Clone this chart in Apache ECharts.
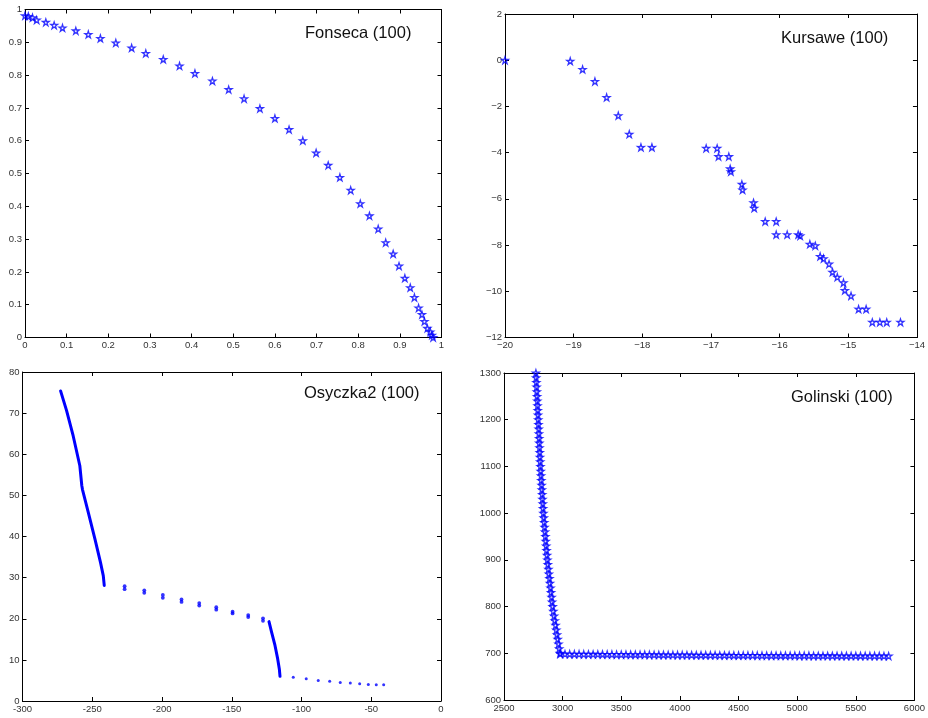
<!DOCTYPE html>
<html lang="en">
<head>
    <meta http-equiv="content-type" content="text/html; charset=utf-8" />
    <script type="text/javascript" src="https://cdn.jsdelivr.net/npm/echarts@6/dist/echarts.min.js"></script>
    <title>Pareto fronts</title>
    <style>
        html, body { margin: 0; padding: 0; background: #fff; }
        #main { width: 928px; height: 718px; }
    </style>
</head>
<body>
<div id="main"></div>
<script type="text/javascript">
    // Fonseca (100)
    var fonseca = [
        [0, 0.981], [0.008, 0.979], [0.018, 0.975], [0.028, 0.968], [0.05, 0.961], [0.07, 0.952],
        [0.09, 0.944], [0.122, 0.935], [0.152, 0.924], [0.181, 0.912], [0.218, 0.898], [0.256, 0.883],
        [0.29, 0.866], [0.332, 0.848], [0.371, 0.828], [0.408, 0.805], [0.45, 0.782], [0.489, 0.756],
        [0.526, 0.728], [0.564, 0.698], [0.6, 0.668], [0.634, 0.634], [0.667, 0.6], [0.699, 0.563],
        [0.728, 0.525], [0.756, 0.488], [0.782, 0.449], [0.805, 0.408], [0.827, 0.371], [0.848, 0.331],
        [0.866, 0.289], [0.884, 0.255], [0.898, 0.218], [0.912, 0.181], [0.925, 0.152], [0.935, 0.122],
        [0.945, 0.09], [0.953, 0.07], [0.959, 0.049], [0.966, 0.028], [0.973, 0.017], [0.977, 0.007],
        [0.98, 0]
    ];
    // Kursawe (100)
    var kursawe = [
        [-20, 0], [-19.05, -0.04], [-18.87, -0.40], [-18.69, -0.92], [-18.52, -1.61], [-18.35, -2.40],
        [-18.19, -3.2], [-18.02, -3.77], [-17.86, -3.77], [-17.07, -3.81], [-16.91, -3.81], [-16.89, -4.17],
        [-16.74, -4.17], [-16.72, -4.70], [-16.71, -4.82], [-16.55, -5.37], [-16.54, -5.61], [-16.38, -6.17],
        [-16.37, -6.40], [-16.21, -6.98], [-16.05, -6.98], [-16.05, -7.55], [-15.89, -7.55], [-15.73, -7.55],
        [-15.70, -7.60], [-15.56, -7.96], [-15.48, -8.03], [-15.41, -8.49], [-15.36, -8.59], [-15.28, -8.82],
        [-15.23, -9.17], [-15.16, -9.39], [-15.07, -9.63], [-15.05, -9.96], [-14.96, -10.20], [-14.85, -10.77],
        [-14.74, -10.77], [-14.65, -11.34], [-14.54, -11.34], [-14.44, -11.34], [-14.24, -11.34]
    ];
    // Osyczka2 (100): two dense stretches and separate dots
    var osyczkaSeg1 = [
        [-272.7, 75.4], [-268.4, 70.6], [-263.7, 64.5], [-258.9, 57.2], [-257.5, 52.4], [-257, 51.4],
        [-252.9, 45.9], [-248.1, 39.4], [-244.1, 33.7], [-242.1, 30.5], [-241.4, 28.1]
    ];
    var osyczkaSeg2 = [
        [-123.3, 19.3], [-121.4, 16.7], [-119.0, 13.5], [-117.1, 10.3], [-115.9, 7.8], [-115.4, 6.0]
    ];
    var osyczkaPairs = [
        [-226.8, 27.9], [-226.8, 27.2], [-212.7, 26.9], [-212.7, 26.3], [-199.4, 25.8], [-199.4, 25.1],
        [-186.0, 24.7], [-186.0, 24.1], [-173.3, 23.8], [-173.3, 23.2], [-161.1, 22.8], [-161.1, 22.2],
        [-149.4, 21.7], [-149.4, 21.3], [-138.2, 20.9], [-138.2, 20.4], [-127.6, 20.1], [-127.6, 19.5]
    ];
    var osyczkaDots = [
        [-105.9, 5.8], [-96.6, 5.4], [-88.0, 5.0], [-79.8, 4.8], [-72.2, 4.5], [-65.0, 4.4],
        [-58.3, 4.2], [-52.1, 4.0], [-46.4, 3.95], [-41.1, 3.95]
    ];
    // Golinski (100)
    var golinskiSteep = [
        [2772, 1300], [2774, 1290], [2776, 1280], [2778, 1270], [2780, 1260], [2782, 1250], [2784, 1240],
        [2786, 1230], [2788, 1220], [2790, 1210], [2792, 1200], [2794, 1190], [2796, 1180], [2798, 1170],
        [2800, 1160], [2801, 1150], [2803, 1140], [2805, 1130], [2807, 1120], [2809, 1110], [2811, 1100],
        [2813, 1090], [2816, 1080], [2818, 1070], [2821, 1060], [2823, 1050], [2826, 1040], [2828, 1030],
        [2831, 1020], [2833, 1010], [2836, 1000], [2839, 990], [2843, 980], [2846, 970], [2850, 960],
        [2853, 950], [2856, 940], [2860, 930], [2863, 920], [2867, 910], [2870, 900], [2874, 890],
        [2879, 880], [2883, 870], [2888, 860], [2892, 850], [2897, 840], [2901, 830], [2906, 820],
        [2910, 810], [2915, 800], [2921, 790], [2927, 780], [2933, 770], [2940, 760], [2946, 750],
        [2952, 740], [2958, 730], [2965, 720], [2971, 710], [2977, 700]
    ];
    var golinskiFlatX = [
        2980, 3020, 3060, 3100, 3140, 3180, 3220, 3260, 3300, 3340,
        3380, 3420, 3460, 3500, 3540, 3580, 3620, 3660, 3700, 3740,
        3780, 3820, 3860, 3900, 3940, 3980, 4020, 4060, 4100, 4140,
        4180, 4220, 4260, 4300, 4340, 4380, 4420, 4460, 4500, 4540,
        4580, 4620, 4660, 4700, 4740, 4780, 4820, 4860, 4900, 4940,
        4980, 5020, 5060, 5100, 5140, 5180, 5220, 5260, 5300, 5340,
        5380, 5420, 5460, 5500, 5540, 5580, 5620, 5660, 5700, 5740,
        5780
    ];
    var golinskiFlatY = [
        698.6, 698.4, 698.3, 698.2, 698.1, 698.0, 697.9, 697.8, 697.8, 697.7,
        697.6, 697.5, 697.4, 697.4, 697.3, 697.2, 697.1, 697.0, 697.0, 696.9,
        696.8, 696.7, 696.7, 696.6, 696.5, 696.4, 696.4, 696.3, 696.2, 696.1,
        696.1, 696.0, 695.9, 695.9, 695.8, 695.7, 695.7, 695.6, 695.5, 695.5,
        695.4, 695.4, 695.3, 695.2, 695.2, 695.1, 695.1, 695.0, 695.0, 694.9,
        694.9, 694.8, 694.8, 694.8, 694.7, 694.7, 694.6, 694.6, 694.6, 694.5,
        694.5, 694.5, 694.4, 694.4, 694.4, 694.3, 694.3, 694.3, 694.3, 694.2,
        694.2
    ];
    var titles = ['Fonseca (100)', 'Kursawe (100)', 'Osyczka2 (100)', 'Golinski (100)'];

    var golinski = golinskiSteep.slice();
    for (var i = 0; i < golinskiFlatX.length; i++) {
        golinski.push([golinskiFlatX[i], golinskiFlatY[i]]);
    }

    var BLUE = '#0000ff';
    var FONT = '"Liberation Sans", Arial, Helvetica, sans-serif';
    var STAR = 'path://M50 0 L61.17 34.63 L97.55 34.55 L68.07 55.87 L79.39 90.45 L50 69 L20.61 90.45 L31.93 55.87 L2.45 34.55 L38.83 34.63 Z';

    // plot boxes
    var grids = [
        {left: 25, top: 9.5, width: 416.5, height: 328},
        {left: 505, top: 14, width: 412, height: 323.5},
        {left: 22.5, top: 372, width: 418.5, height: 329},
        {left: 504, top: 373, width: 416.5, height: 327}
    ];
    var ranges = [
        {x: [0, 1, 0.1], y: [0, 1, 0.1]},
        {x: [-20, -14, 1], y: [-12, 2, 2]},
        {x: [-300, 0, 50], y: [0, 80, 10]},
        {x: [2500, 6000, 500], y: [600, 1300, 100]}
    ];

    function minusFmt(v) {
        return String(v).replace('-', '\u2212');
    }
    function plainFmt(v) {
        return String(Math.round(v * 1000) / 1000);
    }

    var xAxes = [], yAxes = [];
    function axis(g, r, pos, label, fmt) {
        return {
            type: 'value', gridIndex: g, position: pos,
            min: r[0], max: r[1], interval: r[2],
            axisLine: {show: true, onZero: false, lineStyle: {color: '#000', width: 1}},
            axisTick: {show: true, inside: true, length: 4, lineStyle: {color: '#000', width: 1}},
            splitLine: {show: false},
            axisLabel: {show: label, margin: 3, fontSize: 9.5, color: '#333', fontFamily: FONT, formatter: fmt,
                showMinLabel: true, showMaxLabel: true}
        };
    }
    for (var g = 0; g < 4; g++) {
        var fmt = g === 1 ? minusFmt : plainFmt;
        xAxes.push(axis(g, ranges[g].x, 'bottom', true, fmt));
        xAxes.push(axis(g, ranges[g].x, 'top', false, fmt));
        yAxes.push(axis(g, ranges[g].y, 'left', true, fmt));
        yAxes.push(axis(g, ranges[g].y, 'right', false, fmt));
    }

    var titlePos = [[305, 24], [781, 29], [304, 384], [791, 388]];
    var titleList = [];
    for (var t = 0; t < 4; t++) {
        titleList.push({
            text: titles[t], left: titlePos[t][0], top: titlePos[t][1], padding: 0,
            textStyle: {fontSize: 16.5, fontWeight: 'normal', color: '#111', fontFamily: FONT, lineHeight: 18}
        });
    }

    function starSeries(data, g) {
        return {
            type: 'scatter', xAxisIndex: g * 2, yAxisIndex: g * 2, data: data,
            symbol: STAR, symbolSize: 6.8,
            itemStyle: {color: 'rgba(255,255,255,0)', borderColor: BLUE, borderWidth: 1.3}
        };
    }

    var chart = echarts.init(document.getElementById('main'));
    chart.setOption({
        animation: false,
        backgroundColor: '#fff',
        title: titleList,
        grid: grids,
        xAxis: xAxes,
        yAxis: yAxes,
        series: [
            starSeries(fonseca, 0),
            starSeries(kursawe, 1),
            {
                type: 'line', xAxisIndex: 4, yAxisIndex: 4, data: osyczkaSeg1, symbol: 'none',
                lineStyle: {color: BLUE, width: 3, cap: 'round', join: 'round'}
            },
            {
                type: 'line', xAxisIndex: 4, yAxisIndex: 4, data: osyczkaSeg2, symbol: 'none',
                lineStyle: {color: BLUE, width: 3, cap: 'round', join: 'round'}
            },
            {
                type: 'scatter', xAxisIndex: 4, yAxisIndex: 4, data: osyczkaPairs,
                symbol: 'circle', symbolSize: 3.8, itemStyle: {color: BLUE}
            },
            {
                type: 'scatter', xAxisIndex: 4, yAxisIndex: 4, data: osyczkaDots,
                symbol: 'circle', symbolSize: 3, itemStyle: {color: BLUE}
            },
            starSeries(golinski, 3)
        ]
    });
</script>
</body>
</html>
